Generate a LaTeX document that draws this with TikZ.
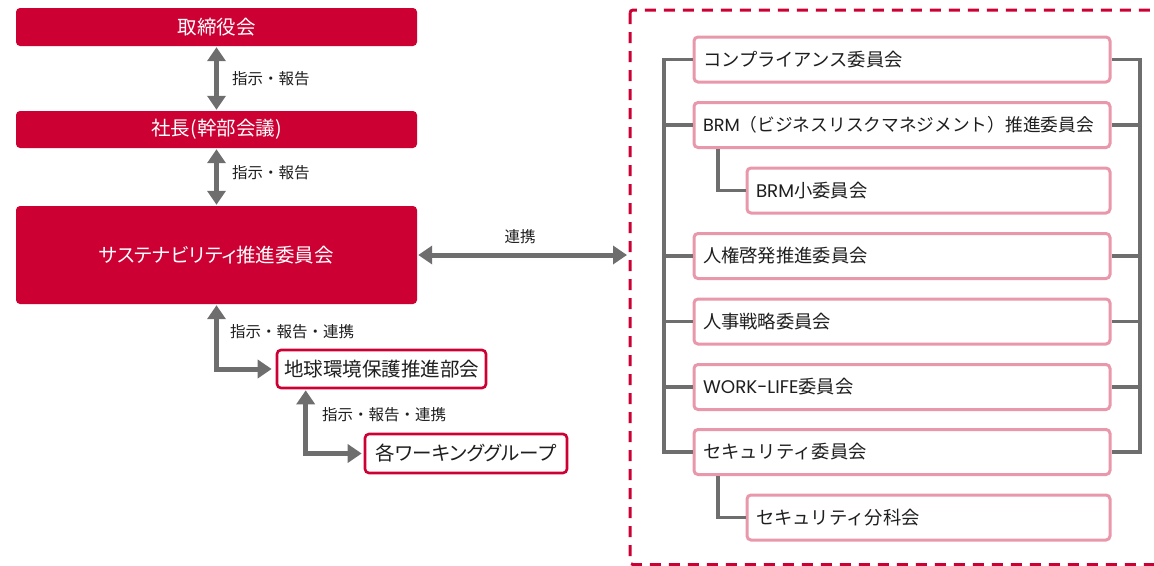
\documentclass[tikz,border=0pt]{standalone}
\usepackage{fontspec}
\setmainfont{Noto Sans CJK JP}
\newfontfamily\paltfont[RawFeature=+palt]{Noto Sans CJK JP}
\newfontfamily\latinf{Poppins}
\usetikzlibrary{arrows.meta}
\definecolor{crim}{RGB}{204,0,51}
\definecolor{pinkb}{RGB}{233,152,171}
\definecolor{grayl}{RGB}{110,110,110}
\definecolor{txt}{RGB}{30,30,30}
\begin{document}
\begin{tikzpicture}[x=1pt,y=-1pt,
  redbox/.style={fill=crim, draw=none, rounded corners=4pt, text=white,
    font=\paltfont\fontsize{19.5}{22}\selectfont, inner sep=0pt, minimum width=401pt},
  outbox/.style={fill=white, draw=crim, line width=2.6pt, rounded corners=4pt, text=txt,
    font=\paltfont\fontsize{19.5}{22}\selectfont, inner sep=0pt},
  combox/.style={fill=white, draw=pinkb, line width=3pt, rounded corners=4pt, text=txt,
    font=\fontsize{18.3}{21}\selectfont, inner xsep=9pt, inner ysep=0pt,
    minimum height=45pt, align=left, text width=398pt},
  subbox/.style={combox, text width=345pt},
  lbl/.style={text=txt, font=\fontsize{15.5}{18}\selectfont, inner sep=0pt},
  garrow/.style={draw=grayl, line width=5pt, {Triangle[length=14pt,width=18pt]}-{Triangle[length=14pt,width=18pt]}},
  bus/.style={draw=grayl, line width=3.3pt},
  dashbox/.style={draw=crim, line width=3pt, dash pattern=on 11pt off 8pt, rounded corners=3pt}
]
\useasboundingbox (0,0) rectangle (1154,565);

% left column
\node[redbox, minimum height=38pt] (A) at (216.5,27) {取締役会};
\node[redbox, minimum height=37pt] (B) at (216.5,129.5) {社長(幹部会議)};
\node[redbox, minimum height=98pt] (C) at (216.5,255) {サステナビリティ推進委員会};
\node[outbox, minimum width=209pt, minimum height=38pt] (D) at (381.5,369) {地球環境保護推進部会};
\node[outbox, minimum width=202pt, minimum height=39pt] (E) at (466,453.5) {各ワーキンググループ};

\draw[garrow, shorten <=1pt, shorten >=1pt] (A.south) -- (B.north);
\draw[garrow, shorten <=1pt, shorten >=1pt] (B.south) -- (C.north);
\draw[garrow, shorten <=1pt, shorten >=4pt] (C.south) |- (D.west);
\draw[garrow, shorten <=1pt, shorten >=2pt] ([xshift=30pt]D.south west) |- (E.west);

\node[lbl, anchor=west] (l1) at (232,79) {指示・報告};
\node[lbl, anchor=west] (l2) at (232,173) {指示・報告};
\node[lbl, anchor=west] (l3) at (230,332) {指示・報告・連携};
\node[lbl, anchor=west] (l4) at (322,415) {指示・報告・連携};

% dashed region
\draw[dashbox] (630,10) rectangle (1175,564.5);
\coordinate (dashL) at (629,255);

\draw[garrow, shorten <=1pt, shorten >=2pt] (C.east) -- (dashL);
\node[lbl] (l5) at (520,237) {連携};

% right committees
\coordinate (busL) at (664,0);
\coordinate (busR) at (1140,0);
\coordinate (subX) at (718,0);

\node[combox] (r1) at (902,59.5) {コンプライアンス委員会};
\node[combox, font=\fontsize{17.7}{21}\selectfont] (r2) at (902,125) {{\latinf BRM}（ビジネスリスクマネジメント）推進委員会};
\node[subbox] (r2s) at (928.5,190.5) {{\latinf BRM}小委員会};
\node[combox] (r3) at (902,256) {人権啓発推進委員会};
\node[combox] (r4) at (902,321.5) {人事戦略委員会};
\node[combox] (r5) at (902,387) {{\latinf WORK-LIFE}委員会};
\node[combox] (r6) at (902,452) {セキュリティ委員会};
\node[subbox] (r6s) at (928.5,517.5) {セキュリティ分科会};

\draw[bus] (r1.west) -- (r1.west -| busL) -- (r6.west -| busL) -- (r6.west);
\draw[bus] (r1.east) -- (r1.east -| busR) -- (r6.east -| busR) -- (r6.east);
\foreach \r in {r2,r3,r4,r5}{
  \draw[bus] (\r.west) -- (\r.west -| busL);
  \draw[bus] (\r.east) -- (\r.east -| busR);
}
\draw[bus] (r2.south -| subX) |- (r2s.west);
\draw[bus] (r6.south -| subX) |- (r6s.west);
\end{tikzpicture}
\end{document}
